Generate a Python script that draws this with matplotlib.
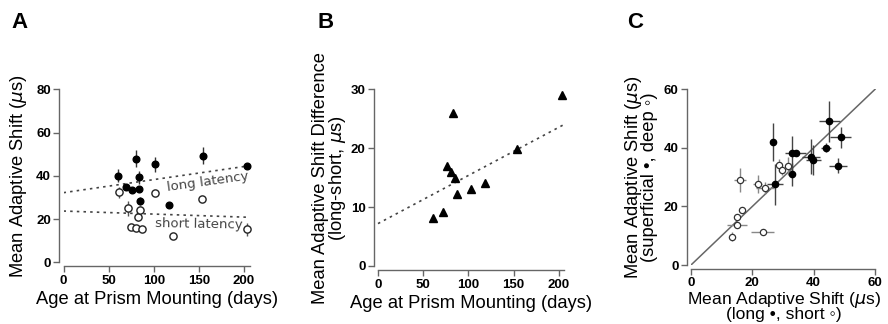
import matplotlib
matplotlib.use("Agg")
import matplotlib.pyplot as plt

plt.rcParams['font.family'] = ['Liberation Sans', 'DejaVu Sans']
plt.rcParams['mathtext.fontset'] = 'dejavusans'

# panel A: age vs mean adaptive shift
age_long = [60.0, 69.3, 75.5, 83.3, 80.7, 84.0, 85.1, 101.0, 117.3, 154.7, 203.4]
shift_long = [40.0, 35.0, 33.4, 33.7, 48.0, 39.3, 28.3, 45.3, 26.4, 49.3, 44.5]
err_long = [3.0, 1.0, 1.0, 1.0, 4.0, 3.0, 2.0, 3.5, 0.8, 4.0, 1.0]
age_short = [61.1, 71.1, 82.2, 85.1, 75.2, 80.7, 87.4, 101.8, 121.0, 153.9, 203.4]
shift_short = [32.4, 25.0, 21.1, 24.2, 16.2, 15.7, 15.3, 32.2, 12.2, 29.3, 15.3]
err_short = [2.5, 3.5, 2.0, 2.0, 0.5, 0.5, 0.5, 1.0, 0.5, 1.0, 3.0]
fit_a_x = [0, 207]
fit_long = [32.2, 44.7]
fit_short = [23.7, 20.8]

# panel B: long - short difference
age_b = [61.2, 71.9, 76.3, 80.4, 82.6, 84.8, 87.7, 102.9, 118.4, 153.8, 203.9]
diff_b = [8.1, 9.1, 17.0, 16.0, 25.9, 14.9, 12.2, 13.1, 14.1, 19.9, 29.0]
fit_b_x = [0, 208]
fit_b_y = [7.2, 24.2]

# panel C: superficial/deep vs long/short
c_long_x = [26.8, 27.4, 32.8, 34.1, 33.0, 39.1, 39.9, 44.0, 45.1, 48.0, 48.8]
c_sup_y = [41.9, 27.6, 38.1, 38.1, 31.0, 37.0, 35.9, 40.1, 49.1, 33.9, 43.6]
c_long_xerr = [0, 2.5, 0, 3.5, 0, 3.0, 2.5, 1.5, 3.5, 3.0, 3.5]
c_sup_yerr = [6.5, 7.0, 6.0, 1.0, 4.0, 6.0, 5.0, 1.5, 7.0, 2.5, 3.5]
c_short_x = [16.0, 13.3, 15.1, 14.9, 16.5, 23.4, 21.7, 24.1, 28.8, 29.6, 31.7]
c_deep_y = [29.0, 9.7, 13.7, 16.5, 18.8, 11.4, 27.7, 26.2, 34.2, 32.4, 33.8]
c_short_xerr = [2.0, 0.5, 3.3, 1.0, 1.0, 3.8, 1.5, 3.0, 1.0, 1.0, 1.0]
c_deep_yerr = [4.0, 1.5, 1.0, 1.0, 1.0, 0.5, 3.0, 2.0, 2.0, 1.5, 3.0]
unity = [0, 60]

W, H = 888, 324
fig = plt.figure(figsize=(W / 100, H / 100), dpi=100)


def px_axes(x0, y_top, x1, y_bot):
    return fig.add_axes([x0 / W, 1 - y_bot / H, (x1 - x0) / W, (y_bot - y_top) / H])


def style(ax, xb, yb):
    for s in ['top', 'right']:
        ax.spines[s].set_visible(False)
    for s in ['left', 'bottom']:
        ax.spines[s].set_position(('outward', 3))
        ax.spines[s].set_color('#666666')
        ax.spines[s].set_linewidth(1.0)
    ax.spines['bottom'].set_bounds(*xb)
    ax.spines['left'].set_bounds(*yb)
    ax.tick_params(length=4, width=1, color='#666666', labelsize=9.5, pad=2)
    for lab in ax.get_xticklabels() + ax.get_yticklabels():
        lab.set_fontweight('bold')


lab_fs = 13.2

# ---- A ----
axA = px_axes(63.5, 89.3, 250.2, 262.3)
axA.plot(fit_a_x, fit_long, ls=(0, (1.5, 2.5)), color='#444444', lw=1.2)
axA.plot(fit_a_x, fit_short, ls=(0, (1.5, 2.5)), color='#444444', lw=1.2)
axA.errorbar(age_short, shift_short, yerr=err_short, fmt='o', ms=5.2, mfc='white',
             mec='#222222', mew=1.0, ecolor='#555555', elinewidth=1, capsize=0, zorder=3, clip_on=False)
axA.errorbar(age_long, shift_long, yerr=err_long, fmt='o', ms=4.8, mfc='black',
             mec='black', ecolor='#333333', elinewidth=1, capsize=0, zorder=4, clip_on=False)
axA.text(160.5, 37.3, 'long latency', rotation=8, ha='center', va='center', fontsize=9.5,
         color='#444444', family=['DejaVu Sans'])
axA.text(150.2, 17.7, 'short latency', rotation=-1, ha='center', va='center', fontsize=9.5,
         color='#444444', family=['DejaVu Sans'])
axA.set_xlim(0, 207)
axA.set_ylim(0, 80)
axA.set_xticks([0, 50, 100, 150, 200])
axA.set_yticks([0, 20, 40, 60, 80])
style(axA, (0, 207), (0, 80))
axA.set_xlabel('Age at Prism Mounting (days)', fontsize=lab_fs, labelpad=3)
axA.set_ylabel('Mean Adaptive Shift ($\\mu$s)', fontsize=lab_fs, labelpad=5)
fig.text(20 / W, 1 - 23 / H, 'A', fontsize=16, fontweight='bold', ha='center', va='center')

# ---- B ----
axB = px_axes(378, 89.3, 378 + 0.904 * 206, 266)
axB.plot(fit_b_x, fit_b_y, ls=(0, (1.5, 2.5)), color='#444444', lw=1.2, clip_on=False)
axB.plot(age_b, diff_b, ls='none', marker='^', ms=6, color='black', clip_on=False, zorder=3)
axB.set_xlim(0, 206)
axB.set_ylim(0, 30)
axB.set_xticks([0, 50, 100, 150, 200])
axB.set_yticks([0, 10, 20, 30])
style(axB, (0, 206), (0, 30))
axB.set_xlabel('Age at Prism Mounting (days)', fontsize=lab_fs, labelpad=3)
axB.set_ylabel('Mean Adaptive Shift Difference\n(long-short, $\\mu$s)', fontsize=lab_fs,
               labelpad=2, linespacing=0.88)
fig.text(326 / W, 1 - 23 / H, 'B', fontsize=16, fontweight='bold', ha='center', va='center')

# ---- C ----
axC = px_axes(691, 89.3, 691 + 3.067 * 60.5, 265)
axC.plot(unity, unity, color='#666666', lw=1.1, zorder=1)
axC.errorbar(c_short_x, c_deep_y, xerr=c_short_xerr, yerr=c_deep_yerr, fmt='o', ms=4.5,
             mfc='white', mec='#333333', mew=0.9, ecolor='#888888', elinewidth=1, capsize=0, zorder=3)
axC.errorbar(c_long_x, c_sup_y, xerr=c_long_xerr, yerr=c_sup_yerr, fmt='o', ms=4.5,
             mfc='black', mec='black', ecolor='#444444', elinewidth=1, capsize=0, zorder=4)
axC.set_xlim(0, 60.5)
axC.set_ylim(0, 60)
axC.set_xticks([0, 20, 40, 60])
axC.set_yticks([0, 20, 40, 60])
style(axC, (0, 60), (0, 60))
axC.set_xlabel('Mean Adaptive Shift ($\\mu$s)\n(long \u2022, short \u25e6)', fontsize=12.6,
               labelpad=0, linespacing=0.8)
axC.set_ylabel('Mean Adaptive Shift ($\\mu$s)\n(superficial \u2022, deep \u25e6)', fontsize=lab_fs,
               labelpad=4, linespacing=0.78)
fig.text(635 / W, 1 - 23 / H, 'C', fontsize=16, fontweight='bold', ha='center', va='center')

fig.savefig('out.png', dpi=100)
